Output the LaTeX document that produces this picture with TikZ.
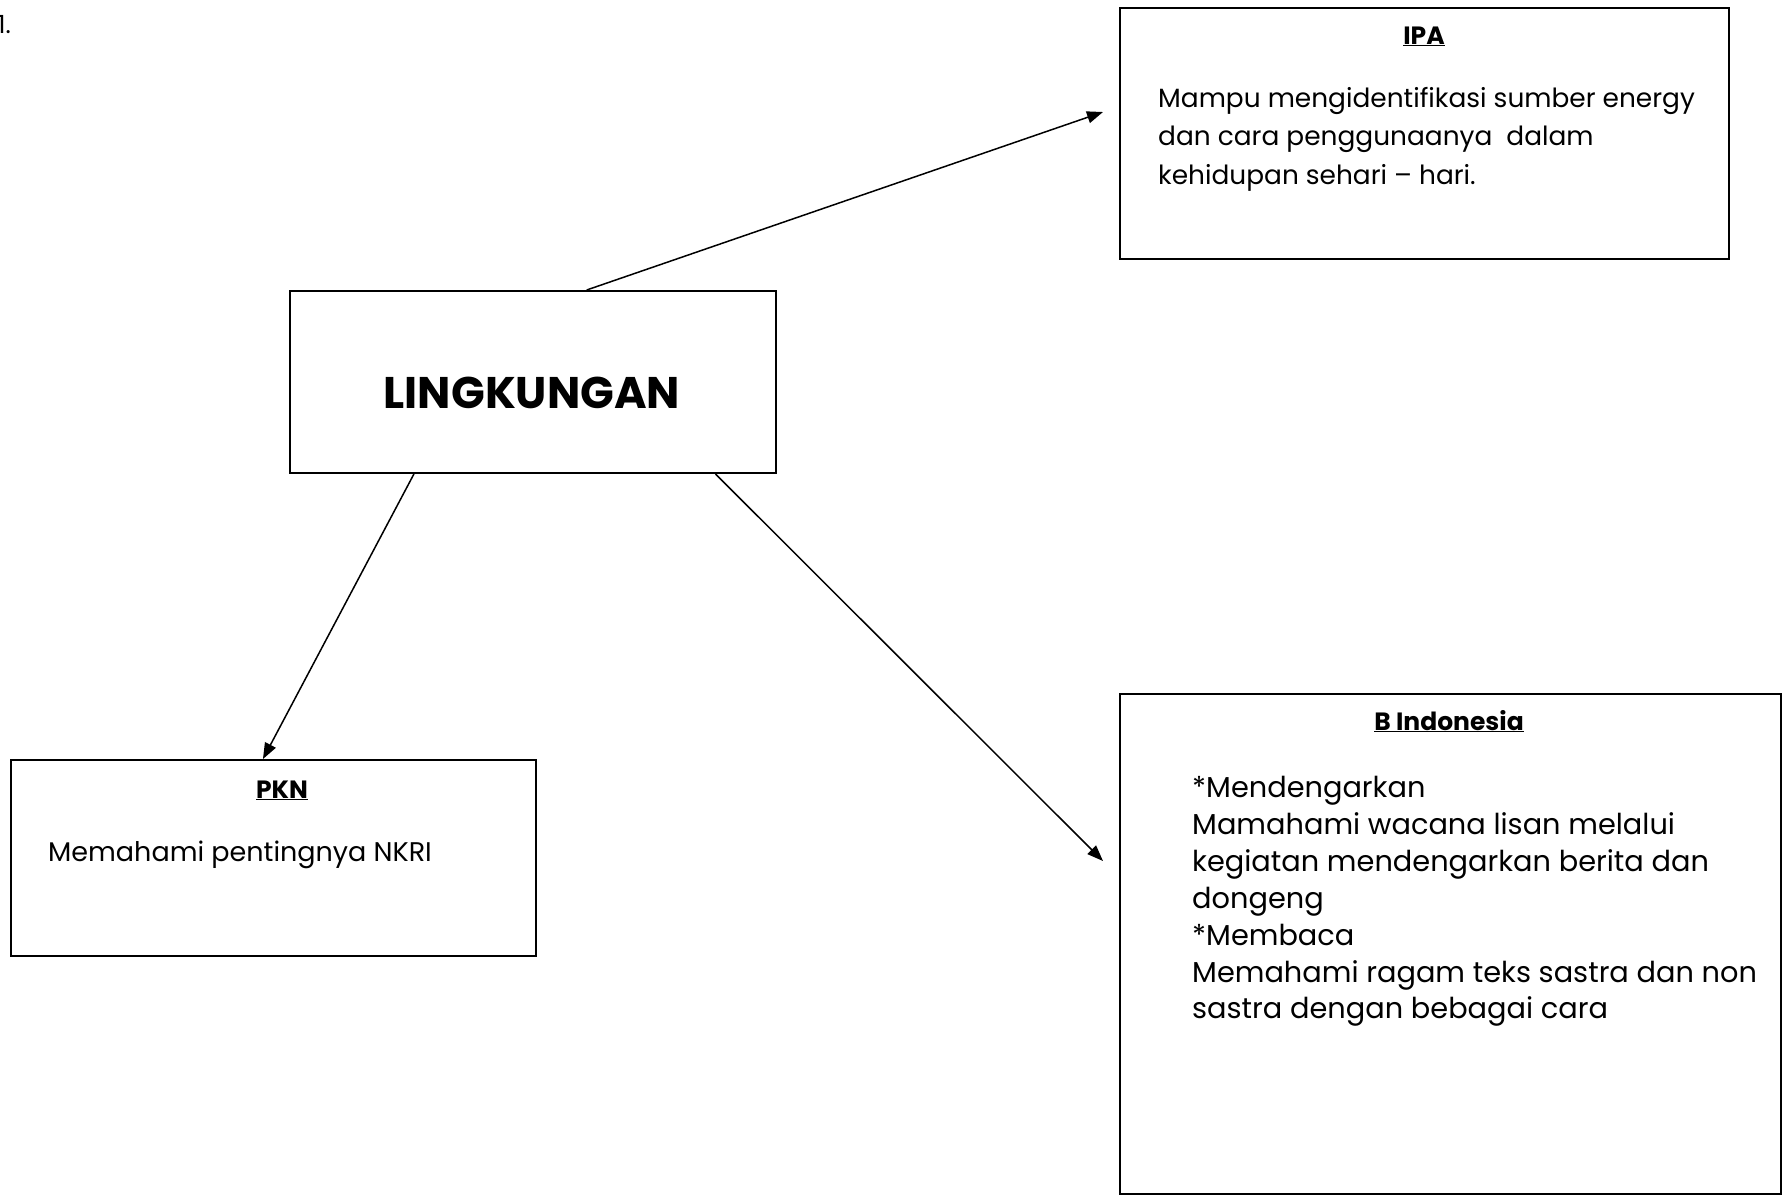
\documentclass[tikz,border=0pt]{standalone}
\usepackage{fontspec}
\setmainfont{Poppins}
\usetikzlibrary{arrows.meta,calc}
\begin{document}
\begin{tikzpicture}[x=1pt,y=-1pt,
  box/.style={draw=black,line width=2pt,inner sep=0pt,anchor=north west},
  body/.style={anchor=north west,inner sep=0pt,align=left,font=\fontsize{26.4}{38.5}\selectfont},
  ttl/.style={anchor=base,inner sep=0pt,font=\fontsize{25}{28}\selectfont\bfseries},
  conn/.style={line width=1.5pt,-{Triangle[length=16pt,width=12pt]}}]
\useasboundingbox (0,0) rectangle (1789,1195);
\fill[white] (0,0) rectangle (1789,1195);
% number
\node[anchor=base east,inner sep=0pt,font=\fontsize{25}{30}\selectfont] (num) at (11,33) {1.};
% boxes
\node[box,minimum width=609pt,minimum height=251pt] (ipa) at (1119,7) {};
\node[box,minimum width=486pt,minimum height=182pt] (ling) at (289,290) {};
\node[box,minimum width=525pt,minimum height=196pt] (pkn) at (10,759) {};
\node[box,minimum width=661pt,minimum height=500pt] (bind) at (1119,693) {};
% texts
\node[anchor=base,inner sep=0pt,font=\fontsize{44.3}{50}\selectfont\bfseries] (lingt) at (532,408) {LINGKUNGAN};
\node[ttl] (ipat) at (1424,44) {\underline{IPA}};
\node[body] (ipab) at (1158,87) {Mampu mengidentifikasi sumber energy\\dan cara penggunaanya\ \ dalam\\kehidupan sehari – hari.};
\node[ttl] (pknt) at (282,798) {\underline{PKN}};
\node[anchor=base west,inner sep=0pt,font=\fontsize{27}{38}\selectfont] (pknb) at (48,861) {Memahami pentingnya NKRI};
\node[ttl] (bindt) at (1449,730) {\underline{B Indonesia}};
\node[body,font=\fontsize{28.8}{36.9}\selectfont] (bindb) at (1192,776) {*Mendengarkan\\Mamahami wacana lisan melalui\\kegiatan mendengarkan berita dan\\dongeng\\*Membaca\\Memahami ragam teks sastra dan non\\sastra dengan bebagai cara};
% connectors
\coordinate (ipatip) at (1103,112);
\coordinate (bindtip) at (1103,861);
\draw[conn] ($(ling.north west)!0.61!(ling.north east)$) -- (ipatip);
\draw[conn] ($(ling.south west)!0.256!(ling.south east)$) -- ($(pkn.north west)!0.48!(pkn.north east)$);
\draw[conn] ($(ling.south west)!0.874!(ling.south east)$) -- (bindtip);
\end{tikzpicture}
\end{document}
